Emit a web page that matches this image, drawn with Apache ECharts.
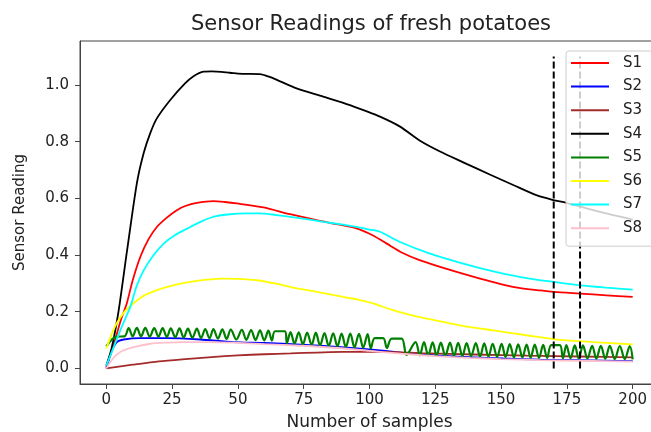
<!DOCTYPE html>
<html>
<head>
<meta charset="utf-8">
<script src="https://cdn.jsdelivr.net/npm/echarts@6/dist/echarts.min.js"></script>
<style>
  html, body { margin: 0; padding: 0; background: #fff; }
  #chart { width: 651px; height: 432px; }
</style>
</head>
<body>
<div id="chart"></div>
<script>
// values, as [sample, reading]
const s1 = [[0,0.005],[3,0.09],[5.5,0.17],[7.8,0.23],[10,0.31],[12.9,0.393],[16,0.455],[19.2,0.499],[23,0.532],[26.8,0.558],[30,0.573],[34.4,0.584],[40.7,0.59],[45,0.587],[49.6,0.582],[59.7,0.568],[69.8,0.544],[79.9,0.523],[88,0.508],[95,0.494],[100,0.475],[104,0.455],[108,0.432],[112,0.41],[119,0.382],[129,0.352],[142,0.317],[155,0.287],[165,0.275],[170,0.27],[180,0.264],[190,0.258],[200,0.252]];
const s2 = [[0,0],[2,0.06],[4,0.093],[6.6,0.102],[12.9,0.107],[23,0.107],[35.7,0.102],[48.3,0.093],[60,0.09],[74,0.084],[88,0.076],[100,0.067],[112,0.056],[125.5,0.046],[138,0.04],[150.8,0.035],[165,0.031],[180,0.029],[200,0.026]];
const s3 = [[0,0],[10,0.013],[20,0.025],[30,0.033],[40,0.04],[50,0.046],[60,0.05],[70,0.053],[80,0.056],[90,0.058],[100,0.059],[110,0.057],[120,0.054],[140,0.049],[160,0.045],[180,0.042],[200,0.039]];
const s4 = [[0,0.01],[2,0.07],[4.7,0.205],[7.9,0.417],[11.6,0.653],[14.2,0.76],[16.7,0.83],[19.2,0.882],[24.3,0.947],[30,1.006],[33,1.03],[36.9,1.047],[40,1.048],[47,1.043],[50,1.04],[53.4,1.039],[58.4,1.038],[61.5,1.03],[64.8,1.018],[72.3,0.988],[82.4,0.959],[92.6,0.929],[98,0.91],[104,0.888],[111.6,0.853],[119.2,0.803],[126.8,0.765],[135.6,0.727],[145.7,0.684],[154.6,0.647],[163.4,0.611],[169.8,0.594],[174.8,0.584],[187.5,0.552],[200,0.525]];
const s5 = [[0,0.078],[4,0.112],[6.9,0.113],
  [8.5,0.142],[10.0,0.113],[11.6,0.143],[13.2,0.113],[14.8,0.143],[16.5,0.112],[18.2,0.142],[19.8,0.112],[21.4,0.142],[23.0,0.111],[24.5,0.141],[26.2,0.110],[27.8,0.141],[29.4,0.109],[31.0,0.140],[32.7,0.108],[34.4,0.140],[36.0,0.107],[37.6,0.139],[39.2,0.106],[40.7,0.139],[42.4,0.105],[44.1,0.138],[45.7,0.104],[47.3,0.137],[49.4,0.102],[51.5,0.136],[53.2,0.101],[55.0,0.135],[56.7,0.100],[58.4,0.134],[60.0,0.099],[61.6,0.133],[62.9,0.098],
  [64.1,0.131],[67.9,0.131],[68.6,0.089],
  [70.0,0.128],[71.5,0.087],[73.1,0.127],[74.7,0.085],[76.3,0.126],[78.0,0.083],[79.6,0.126],[81.2,0.081],[82.9,0.125],[84.5,0.079],[86.2,0.124],[87.8,0.078],[89.4,0.123],[91.0,0.076],[92.7,0.123],[94.3,0.074],[96.0,0.122],[97.6,0.073],[99.3,0.121],[100.5,0.071],
  [102.0,0.107],[105.2,0.107],[106.6,0.072],[108.4,0.105],[112.2,0.105],[114.1,0.048],
  [117.5,0.093],[119.1,0.046],[120.7,0.093],[122.3,0.046],[124.0,0.092],[125.5,0.045],[127.1,0.091],[128.8,0.045],[130.6,0.091],[132.1,0.044],[133.7,0.090],[135.3,0.043],[136.9,0.089],[138.6,0.043],[140.4,0.089],[142.0,0.042],[143.6,0.088],[145.2,0.041],[146.8,0.087],[148.5,0.041],[150.2,0.087],[151.7,0.040],[153.3,0.086],[154.9,0.039],[156.5,0.085],[158.1,0.039],[159.7,0.084],[161.2,0.038],[162.8,0.084],[164.4,0.037],[166.0,0.083],[167.5,0.037],
  [169.1,0.082],[172.3,0.082],[173.5,0.036],
  [174.8,0.082],[176.4,0.036],[178.0,0.081],[179.5,0.035],[181.1,0.081],[182.8,0.035],[184.6,0.080],[186.2,0.034],[187.9,0.080],[189.6,0.034],[191.3,0.080],[193.2,0.033],[195.1,0.079],[197.0,0.033],[198.9,0.079],[200,0.032]];
const s6 = [[0,0.07],[2,0.12],[4,0.16],[6.5,0.195],[9.1,0.22],[14,0.255],[19.2,0.276],[25,0.292],[31.9,0.305],[38,0.313],[44.5,0.317],[50,0.316],[57.2,0.311],[65,0.298],[72.4,0.282],[80,0.27],[90,0.252],[96,0.242],[102,0.228],[108,0.208],[115,0.19],[121.7,0.176],[134.3,0.152],[147,0.134],[159.7,0.117],[172.3,0.101],[185,0.093],[200,0.085]];
const s7 = [[0,0.01],[3,0.08],[6,0.15],[9.1,0.217],[11.5,0.29],[14.2,0.346],[18,0.4],[21.8,0.44],[26,0.47],[31.9,0.499],[36,0.518],[40.7,0.535],[46,0.543],[53.4,0.547],[58,0.547],[64.8,0.541],[72,0.532],[82.5,0.517],[90,0.507],[95,0.499],[100,0.49],[104,0.482],[111.6,0.446],[123,0.405],[135.6,0.37],[148.3,0.34],[160.9,0.317],[170,0.305],[180,0.293],[190,0.285],[200,0.278]];
const s8 = [[0,0],[2.5,0.035],[5.3,0.058],[10.4,0.075],[16.7,0.087],[23,0.091],[29.3,0.093],[38,0.093],[48.3,0.091],[60,0.086],[74,0.08],[88,0.072],[100,0.062],[112,0.052],[125,0.043],[138,0.037],[150,0.033],[165,0.029],[180,0.027],[200,0.024]];

const names = ['S1', 'S2', 'S3', 'S4', 'S5', 'S6', 'S7', 'S8'];
const colors = ['#ff0000', '#0000ff', '#a52a2a', '#000000', '#008000', '#ffff00', '#00ffff', '#ffc0cb'];
const seriesData = [s1, s2, s3, s4, s5, s6, s7, s8];

// dashed vertical markers
const cutoffs = [170, 180];
const cutoffSpan = [0, 1.1];

const xTicks = [0, 25, 50, 75, 100, 125, 150, 175, 200];
const yTicks = [0, 0.2, 0.4, 0.6, 0.8, 1.0];

const font = 'DejaVu Sans';
const chart = echarts.init(document.getElementById('chart'));

const series = seriesData.map((d, i) => ({
  name: names[i],
  type: 'line',
  data: d,
  showSymbol: false,
  symbol: 'none',
  smooth: i === 4 ? 0.35 : 0.25,
  lineStyle: { color: colors[i], width: i === 4 ? 2.2 : 1.8 },
  itemStyle: { color: colors[i] },
  animation: false
}));

cutoffs.forEach((c) => {
  series.push({
    name: 'cut' + c,
    type: 'line',
    data: cutoffSpan.map((y) => [c, y]),
    symbol: 'none',
    lineStyle: { color: '#000', width: 2, type: [7, 3] },
    animation: false,
    silent: true
  });
});

chart.setOption({
  animation: false,
  textStyle: { fontFamily: font },
  title: {
    text: 'Sensor Readings of fresh potatoes',
    left: 366,
    textAlign: 'center',
    top: 9,
    textStyle: { fontFamily: font, fontSize: 21, fontWeight: 'normal', color: '#222' }
  },
  grid: {
    left: 80, right: -8, top: 41, bottom: 48,
    outerBoundsMode: 'none',
    containLabel: false,
    show: true, borderColor: '#444', borderWidth: 1
  },
  legend: {
    data: names,
    orient: 'vertical',
    left: 566,
    top: 51,
    icon: 'rect',
    itemWidth: 38,
    itemHeight: 2,
    itemGap: 7.6,
    padding: [4, 12, 10, 5],
    backgroundColor: 'rgba(255,255,255,0.8)',
    borderColor: '#ccc',
    borderWidth: 1,
    borderRadius: 3,
    textStyle: { fontFamily: font, fontSize: 15, lineHeight: 16, color: '#222', padding: [0, 0, 0, 9] }
  },
  xAxis: {
    type: 'value',
    min: -10,
    max: 210,
    name: 'Number of samples',
    nameLocation: 'middle',
    nameGap: 30,
    nameTextStyle: { fontFamily: font, fontSize: 17, color: '#222' },
    splitLine: { show: false },
    axisLine: { onZero: false, lineStyle: { color: '#444', width: 1 } },
    axisTick: { customValues: xTicks, length: 5, lineStyle: { color: '#444' } },
    axisLabel: { customValues: xTicks, margin: 9, fontSize: 15, color: '#222', fontFamily: font }
  },
  yAxis: {
    type: 'value',
    min: -0.055,
    max: 1.155,
    name: 'Sensor Reading',
    nameLocation: 'middle',
    nameRotate: 90,
    nameGap: 52,
    nameTextStyle: { fontFamily: font, fontSize: 15, color: '#222' },
    splitLine: { show: false },
    axisLine: { show: true, onZero: false, lineStyle: { color: '#444', width: 1 } },
    axisTick: { show: true, customValues: yTicks, length: 5, lineStyle: { color: '#444' } },
    axisLabel: {
      customValues: yTicks, margin: 11, fontSize: 15, color: '#222', fontFamily: font,
      formatter: (v) => v.toFixed(1)
    }
  },
  series: series
});
</script>
</body>
</html>
